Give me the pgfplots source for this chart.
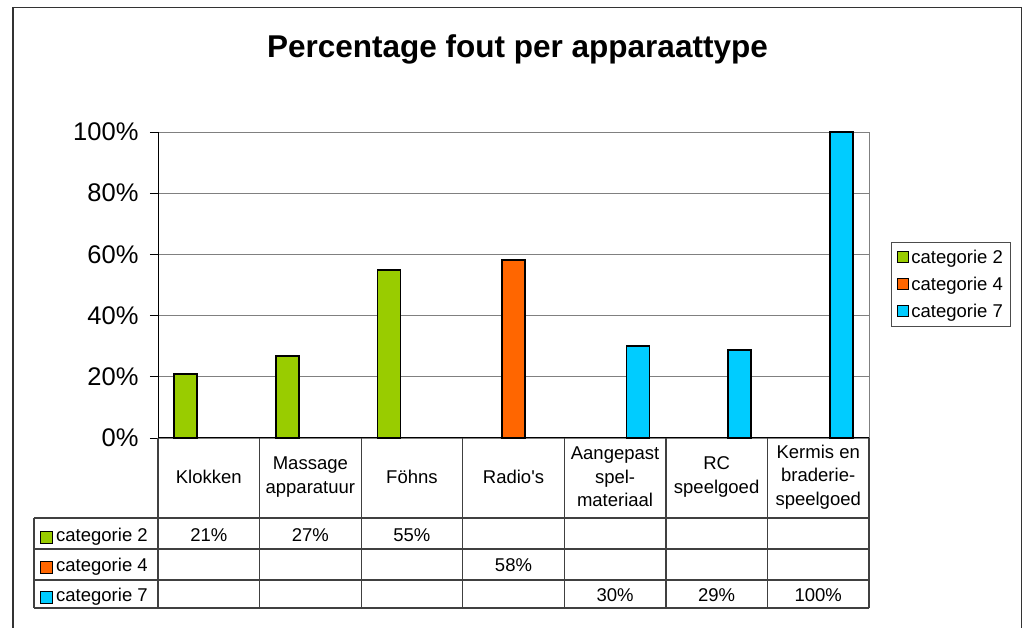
\documentclass[border=0pt]{standalone}
\usepackage{fontspec}
\setmainfont{Liberation Sans}
\usepackage{pgfplots}
\pgfplotsset{compat=1.18}
\definecolor{cgreen}{HTML}{99CC00}
\definecolor{corange}{HTML}{FF6600}
\definecolor{ccyan}{HTML}{00CCFF}
\newcommand{\sm}{\fontsize{18.5}{23.5}\selectfont}
\pgfplotsset{sqlegend/.style={legend image code/.code={\draw[##1,draw=black,line width=0.9pt] (0pt,-5.5pt) rectangle (11pt,5.5pt);}}}
\begin{document}
\begin{tikzpicture}[x=1pt,y=1pt]
\useasboundingbox (0,0) rectangle (1023,628);
\draw[black!80, line width=1.8pt] (13,-5) -- (13,620.5) -- (1021.5,620.5) -- (1021.5,-5);
\node[font=\fontsize{31.5}{37}\selectfont\bfseries, anchor=base] at (517.5,570.3) {Percentage fout per apparaattype};
\begin{axis}[
  at={(158pt,190pt)}, anchor=south west, scale only axis,
  width=711pt, height=306pt,
  xmin=-0.5, xmax=6.5, ymin=0, ymax=100,
  ytick={0,20,...,100}, ytick pos=left,
  yticklabels={0\%,20\%,40\%,60\%,80\%,100\%},
  yticklabel style={font=\fontsize{25.5}{30}\selectfont, xshift=-8pt},
  ymajorgrids,
  grid style={black!50, line width=0.9pt},
  axis line style={black!50, line width=0.9pt},
  ytick style={black, line width=0.9pt},
  tick align=outside, major tick length=8pt,
  xtick={0,...,6}, xtick style={draw=none},
  xticklabels={Klokken,{Massage\\apparatuur},Föhns,Radio\textquotesingle s,{Aangepast\\spel-\\materiaal},{RC\\speelgoed},{Kermis en\\braderie-\\speelgoed}},
  xticklabel style={font=\sm, align=center, anchor=center, yshift=-31pt},
  ybar, bar width=23pt, clip=false,
  legend cell align=left,
  legend style={at={(1.031,0.6405)}, anchor=north west, draw=black!70, line width=0.9pt, font=\sm, inner xsep=6pt, inner ysep=5.5pt, row sep=8pt, /tikz/every even column/.append style={column sep=2pt}},
]
\addplot[fill=cgreen, draw=black, line width=1.6pt, bar shift=-23pt, sqlegend] coordinates {(0,20.9) (1,26.8) (2,54.9)};
\addlegendentry{categorie 2}
\addplot[fill=corange, draw=black, line width=1.6pt, bar shift=0pt, sqlegend] coordinates {(3,58.2)};
\addlegendentry{categorie 4}
\addplot[fill=ccyan, draw=black, line width=1.6pt, bar shift=23pt, sqlegend] coordinates {(4,30.1) (5,28.8) (6,100)};
\addlegendentry{categorie 7}
\draw[black, line width=1pt] (axis cs:-0.5,100) -- (axis cs:-0.5,0) -- (axis cs:6.5,0);
\end{axis}
\begin{scope}[black!75, line width=1.2pt]
\foreach \yy in {110,79,48,20} \draw (34,\yy) -- (869,\yy);
\draw (34,110) -- (34,20);
\foreach \xx in {158,259.6,361.1,462.7,564.3,665.9,767.4,869} \draw (\xx,190) -- (\xx,20);
\end{scope}
\draw[fill=cgreen, draw=black, line width=0.9pt] (40,85) rectangle (52,97);
\draw[fill=corange, draw=black, line width=0.9pt] (40,54.5) rectangle (52,66.5);
\draw[fill=ccyan, draw=black, line width=0.9pt] (40,24.5) rectangle (52,36.5);
\begin{scope}[font=\sm]
\node[anchor=base west, inner sep=0] at (56,86.3) {categorie 2};
\node[anchor=base west, inner sep=0] at (56,56.3) {categorie 4};
\node[anchor=base west, inner sep=0] at (56,26.3) {categorie 7};
\node[anchor=base, inner sep=0] at (208.8,86.3) {21\%};
\node[anchor=base, inner sep=0] at (310.4,86.3) {27\%};
\node[anchor=base, inner sep=0] at (411.9,86.3) {55\%};
\node[anchor=base, inner sep=0] at (513.5,56.3) {58\%};
\node[anchor=base, inner sep=0] at (615.1,26.3) {30\%};
\node[anchor=base, inner sep=0] at (716.6,26.3) {29\%};
\node[anchor=base, inner sep=0] at (818.2,26.3) {100\%};
\end{scope}
\end{tikzpicture}
\end{document}
